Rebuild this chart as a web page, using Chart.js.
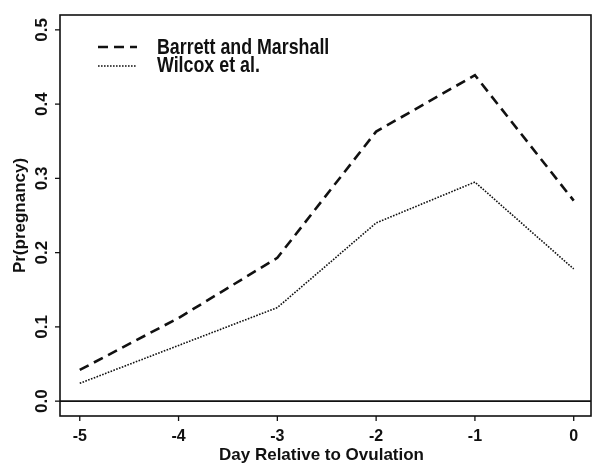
<!DOCTYPE html>
<html>
<head>
<meta charset="utf-8">
<script src="https://cdn.jsdelivr.net/npm/chart.js@4.4.0/dist/chart.umd.min.js"></script>
<style>
html,body{margin:0;padding:0;background:#fff;}
#wrap{width:593px;height:465px;position:relative;}
</style>
</head>
<body>
<div id="wrap"><canvas id="c" width="593" height="465"></canvas></div>
<script>
const days = [-5, -4, -3, -2, -1, 0];
const barrett = [0.042, 0.112, 0.193, 0.363, 0.439, 0.270];
const wilcox = [0.024, 0.075, 0.126, 0.240, 0.295, 0.178];
const seriesNames = ['Barrett and Marshall', 'Wilcox et al.'];
const xTicks = [-5, -4, -3, -2, -1, 0];
const xTickLabels = ['-5', '-4', '-3', '-2', '-1', '0'];
const yTicks = [0.0, 0.1, 0.2, 0.3, 0.4, 0.5];
const yTickLabels = ['0.0', '0.1', '0.2', '0.3', '0.4', '0.5'];
const xTitle = 'Day Relative to Ovulation';
const yTitle = 'Pr(pregnancy)';

const INK = '#111';
const FONT = '"Liberation Sans", Arial, Helvetica, sans-serif';

const decor = {
  id: 'decor',
  afterDraw(chart) {
    const ctx = chart.ctx;
    const a = chart.chartArea;
    const xs = chart.scales.x, ys = chart.scales.y;
    ctx.save();
    ctx.strokeStyle = INK;
    ctx.fillStyle = INK;
    ctx.setLineDash([]);
    // frame
    ctx.lineWidth = 1.6;
    ctx.strokeRect(a.left, a.top, a.right - a.left, a.bottom - a.top);
    // h=0 line
    const y0 = ys.getPixelForValue(0);
    ctx.lineWidth = 1.6;
    ctx.beginPath(); ctx.moveTo(a.left, y0); ctx.lineTo(a.right, y0); ctx.stroke();
    // x ticks
    ctx.lineWidth = 1.3;
    ctx.font = 'bold 16px ' + FONT;
    ctx.textAlign = 'center'; ctx.textBaseline = 'middle';
    xTicks.forEach((v, i) => {
      const px = xs.getPixelForValue(v);
      ctx.beginPath(); ctx.moveTo(px, a.bottom); ctx.lineTo(px, a.bottom + 5); ctx.stroke();
      ctx.fillText(xTickLabels[i], px, 437);
    });
    // y ticks
    ctx.font = 'bold 17px ' + FONT;
    yTicks.forEach((v, i) => {
      const py = ys.getPixelForValue(v);
      ctx.beginPath(); ctx.moveTo(a.left, py); ctx.lineTo(a.left - 5, py); ctx.stroke();
      ctx.save();
      ctx.translate(42, py);
      ctx.rotate(-Math.PI / 2);
      ctx.fillText(yTickLabels[i], 0, 0);
      ctx.restore();
    });
    // axis titles
    ctx.font = 'bold 17px ' + FONT;
    ctx.fillText(xTitle, (a.left + a.right) / 2 - 4, 455);
    ctx.save();
    ctx.translate(20, (a.top + a.bottom) / 2);
    ctx.rotate(-Math.PI / 2);
    ctx.fillText(yTitle, 0, 0);
    ctx.restore();
    // legend
    ctx.textAlign = 'left'; ctx.textBaseline = 'alphabetic';
    ctx.font = 'bold 22px ' + FONT;
    const ds = chart.data.datasets;
    const rows = [47, 66];
    const textBase = [54, 72];
    ds.forEach((d, i) => {
      ctx.save();
      ctx.lineWidth = d.borderWidth;
      ctx.setLineDash(d.borderDash);
      ctx.beginPath(); ctx.moveTo(98, rows[i]); ctx.lineTo(137, rows[i]); ctx.stroke();
      ctx.restore();
      ctx.save();
      ctx.translate(157, textBase[i]);
      ctx.scale(0.81, 1);
      ctx.fillText(d.label, 0, 0);
      ctx.restore();
    });
    ctx.restore();
  }
};

new Chart(document.getElementById('c'), {
  type: 'line',
  data: {
    datasets: [
      {
        label: seriesNames[0],
        data: days.map((d, i) => ({x: d, y: barrett[i]})),
        borderColor: INK, borderWidth: 2.6, borderDash: [10, 6],
        pointRadius: 0, tension: 0, fill: false
      },
      {
        label: seriesNames[1],
        data: days.map((d, i) => ({x: d, y: wilcox[i]})),
        borderColor: INK, borderWidth: 1.6, borderDash: [1.6, 1.4],
        pointRadius: 0, tension: 0, fill: false
      }
    ]
  },
  options: {
    responsive: false,
    animation: false,
    layout: {padding: {left: 60, top: 15, right: 2, bottom: 49}},
    plugins: {legend: {display: false}, tooltip: {enabled: false}},
    scales: {
      x: {type: 'linear', min: -5.2, max: 0.175, display: false},
      y: {type: 'linear', min: -0.02, max: 0.52, display: false}
    }
  },
  plugins: [decor]
});
</script>
</body>
</html>
